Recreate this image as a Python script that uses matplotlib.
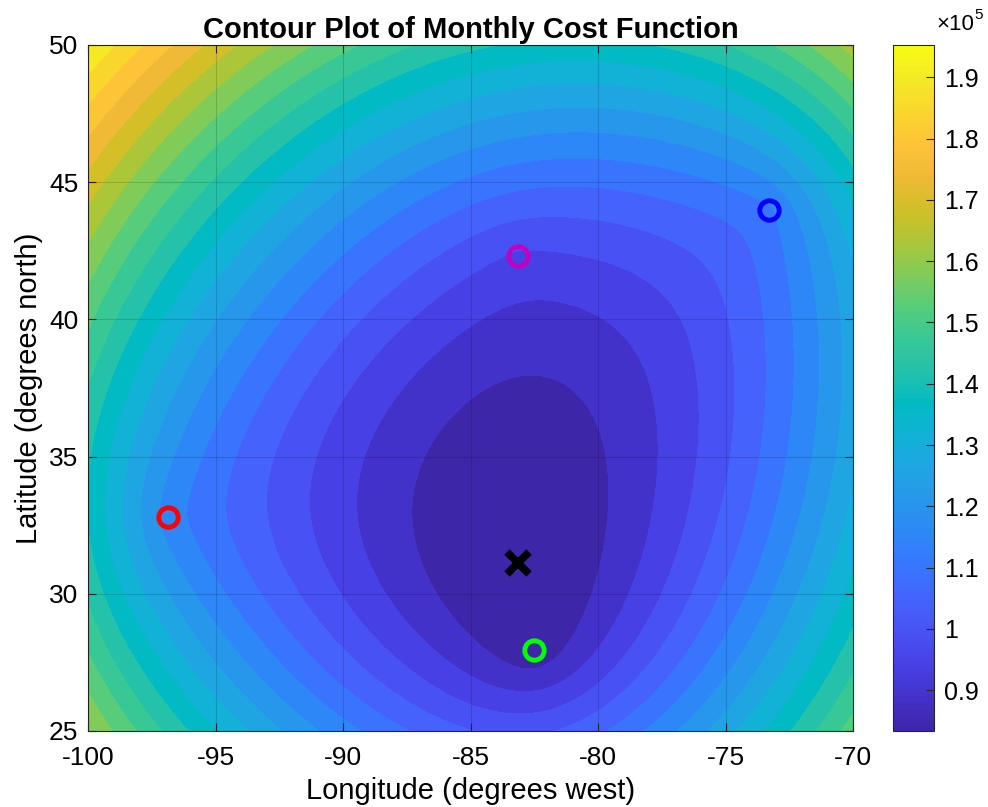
import numpy as np
import matplotlib
matplotlib.use('Agg')
import matplotlib.pyplot as plt
from matplotlib.colors import LinearSegmentedColormap, Normalize

# customer cities: Dallas, Tampa, Detroit, Burlington
city_lon = np.array([-96.86, -82.51, -83.14, -73.3])
city_lat = np.array([32.8, 27.95, 42.31, 44.0])
city_colors = ['r', (0, 1, 0), 'm', 'b']
# monthly cost per degree of distance for each city
weights = np.array([1993, 2932, 797, 2307])
# best location found
best_lon, best_lat = -83.14, 31.12

lon_range = (-100, -70)
lat_range = (25, 50)
n_levels = 20

parula = [(0.2422, 0.1504, 0.6603), (0.2647, 0.1978, 0.7952), (0.2783, 0.2559, 0.8991),
          (0.2810, 0.3228, 0.9579), (0.2699, 0.3892, 0.9906), (0.2206, 0.4603, 0.9973),
          (0.1786, 0.5289, 0.9682), (0.1540, 0.5902, 0.9218), (0.1248, 0.6459, 0.8883),
          (0.0689, 0.6948, 0.8394), (0.0067, 0.7300, 0.7635), (0.1408, 0.7584, 0.6687),
          (0.2161, 0.7843, 0.5923), (0.3406, 0.8008, 0.4789), (0.5044, 0.7993, 0.3480),
          (0.6720, 0.7793, 0.2227), (0.8203, 0.7498, 0.1535), (0.9393, 0.7288, 0.2100),
          (0.9970, 0.7659, 0.2199), (0.9786, 0.8386, 0.1766), (0.9597, 0.9135, 0.1423),
          (0.9769, 0.9839, 0.0805)]
cmap = LinearSegmentedColormap.from_list('parula', parula, N=256)

X, Y = np.meshgrid(np.linspace(*lon_range, 301), np.linspace(*lat_range, 251))
Z = np.zeros_like(X)
for cx, cy, w in zip(city_lon, city_lat, weights):
    Z += w * np.hypot(X - cx, Y - cy)

plt.rcParams['font.family'] = ['Liberation Sans', 'DejaVu Sans']
plt.rcParams['axes.unicode_minus'] = False

fig = plt.figure(figsize=(9.88, 8.07), dpi=100)
ax = fig.add_axes([88 / 988, 1 - 731 / 807, 765 / 988, 686 / 807])
cax = fig.add_axes([893 / 988, 1 - 731 / 807, 41 / 988, 686 / 807])

levels = np.linspace(Z.min(), Z.max(), n_levels + 2)
norm = Normalize(Z.min(), Z.max())
band_colors = [cmap(norm(v)) for v in levels[:-1]]
edges = levels.copy()
edges[0] -= 1
edges[-1] += 1
ax.contourf(X, Y, Z, levels=edges, colors=band_colors)

for cx, cy, c in zip(city_lon, city_lat, city_colors):
    ax.plot(cx, cy, 'o', mfc='none', mec=c, ms=14, mew=3.5, zorder=5)
ax.plot(best_lon, best_lat, 'x', color='k', ms=16, mew=5.5, zorder=5)

ax.set_xlim(*lon_range)
ax.set_ylim(*lat_range)
ax.set_xticks(np.arange(-100, -69, 5))
ax.set_yticks(np.arange(25, 51, 5))
ax.grid(True, color='k', alpha=0.15, lw=0.8)
ax.set_axisbelow(False)
ax.tick_params(direction='in', top=True, right=True, length=6, labelsize=19, color='0.15', pad=7)
ax.tick_params(axis='x', pad=11)
for s in ax.spines.values():
    s.set_color('0.15')
ax.set_xlabel('Longitude (degrees west)', fontsize=21, labelpad=5)
ax.set_ylabel('Latitude (degrees north)', fontsize=21, labelpad=4)
ax.set_title('Contour Plot of Monthly Cost Function', fontsize=21, fontweight='bold', pad=5)

cb = fig.colorbar(plt.cm.ScalarMappable(norm=norm, cmap=cmap), cax=cax)
tv = np.arange(90000, 190001, 10000)
cb.set_ticks(tv)
cb.set_ticklabels([f"{v / 1e5:g}" for v in tv])
cax.tick_params(direction='in', length=6, labelsize=18, color='0.15', pad=7)
cb.outline.set_edgecolor('0.15')
fig.text(936 / 988, 1 - 24 / 807, '×10', fontsize=16, ha='left', va='center')
fig.text(974 / 988, 1 - 15 / 807, '5', fontsize=11, ha='left', va='center')

fig.savefig('out.png')
